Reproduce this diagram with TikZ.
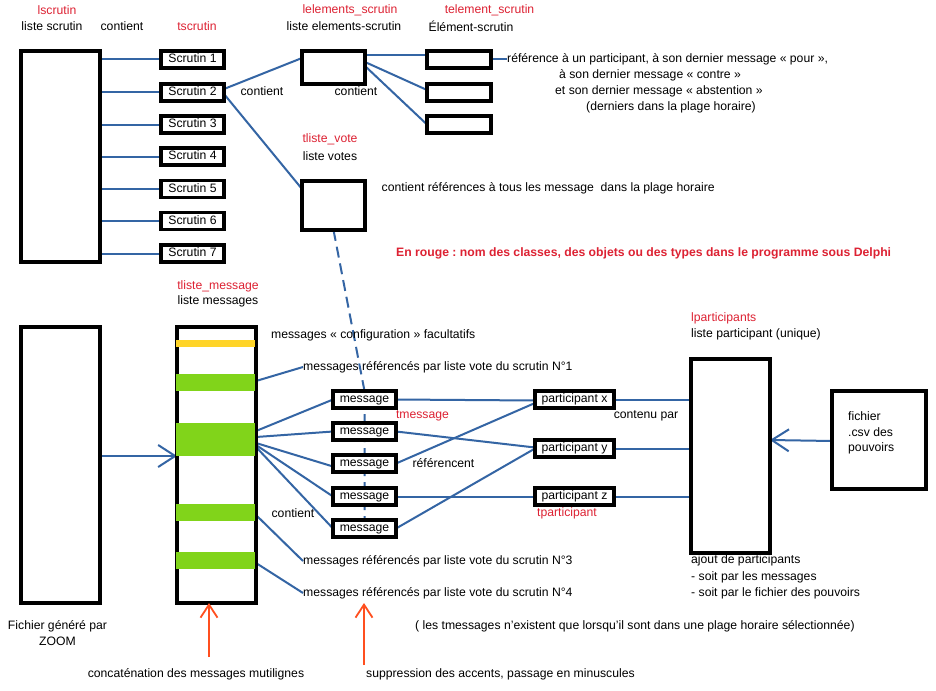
\documentclass[tikz,border=0pt]{standalone}
\usepackage{fontspec}
\setmainfont{Liberation Sans}
\usetikzlibrary{arrows.meta,calc}
\definecolor{lblue}{HTML}{3465A4}
\definecolor{cred}{RGB}{221,34,51}
\definecolor{lgreen}{HTML}{81D41A}
\definecolor{lyellow}{HTML}{FFD428}
\definecolor{lorange}{HTML}{FF4F1F}
\pgfdeclarelayer{back}
\pgfdeclarelayer{bg}
\pgfsetlayers{back,bg,main}
\frenchspacing
\begin{document}
\begin{tikzpicture}[x=1pt,y=-1pt,
  every node/.style={font=\fontsize{12.2}{14}\selectfont},
  box/.style={draw=black,line width=3.1pt,fill=white,inner sep=0pt,outer sep=0pt,text height=8.8pt,text depth=2.2pt},
  sbox/.style={box,minimum width=63pt,minimum height=17pt},
  lab/.style={inner sep=0pt,text=black},
  rlab/.style={inner sep=0pt,text=cred},
  conn/.style={draw=lblue,line width=2pt},
  barb/.style={-{Straight Barb[length=17pt,width=22pt]}},
  obarb/.style={draw=lorange,line width=1.8pt,-{Straight Barb[length=13pt,width=17pt]}},
  dashline/.style={conn,dash pattern=on 11pt off 6pt},
]
\begin{pgfonlayer}{back}
\fill[white] (0,0) rectangle (936,690);
\end{pgfonlayer}
\useasboundingbox (0,0) rectangle (936,690);

% ---------- top part ----------
\node[box,minimum width=79pt,minimum height=211pt] (ls) at (60.5,156.5) {};
\foreach \i/\y in {1/59.5,2/92.5,3/124.5,4/156.5,5/189,6/221,7/253.5}
  \node[sbox] (s\i) at (192.5,\y) {Scrutin \i};
\node[box,minimum width=63pt,minimum height=33pt] (le) at (333.5,67.5) {};
\foreach \i/\y in {1/59.5,2/92.5,3/124.5}
  \node[box,minimum width=64pt,minimum height=17pt] (e\i) at (459,\y) {};
\node[box,minimum width=63pt,minimum height=49pt] (tv) at (333.5,205.5) {};

\node[rlab] (tlscr) at (57,10) {lscrutin};
\node[lab] (tlistes) at (52,26) {liste scrutin};
\node[lab] (tcont1) at (122,26) {contient};
\node[rlab] (ttscr) at (197,26) {tscrutin};
\node[rlab] (tles) at (350,10) {lelements\_scrutin};
\node[lab] (tlesb) at (344,26) {liste elements-scrutin};
\node[rlab] (tel) at (489.5,10) {telement\_scrutin};
\node[lab] (telb) at (471,26) {Élément-scrutin};
\node[lab] (tcont2) at (262,91) {contient};
\node[lab] (tcont3) at (356,91) {contient};
\node[rlab] (ttv) at (330,139) {tliste\_vote};
\node[lab] (ttvb) at (330,156) {liste votes};
\node[lab,anchor=west] (r1) at (507,59.5) {référence à un participant, à son dernier message « pour »,};
\node[lab,anchor=west] (r2) at (559,75) {à son dernier message « contre »};
\node[lab,anchor=west] (r3) at (555,91.5) {et son dernier message « abstention »};
\node[lab,anchor=west] (r4) at (586,107.5) {(derniers dans la plage horaire)};
\node[lab,anchor=west] (tref) at (381.5,188) {contient références à tous les message~ dans la plage horaire};
\node[rlab,anchor=west,font=\fontsize{12.2}{14}\selectfont\bfseries] (trouge) at (396,253) {En rouge : nom des classes, des objets ou des types dans le programme sous Delphi};

% ---------- bottom part ----------
\node[box,minimum width=79pt,minimum height=276pt] (fz) at (60.5,465) {};
\node[box,minimum width=79pt,minimum height=276pt] (tm) at (216.5,465) {};
\fill[lyellow] (175.5,340) rectangle (254.5,347);
\foreach \a/\b in {374/391,423/456,504/521,552/569}
  \fill[lgreen] (175.5,\a) rectangle (254.5,\b);

\foreach \i/\y in {1/399.5,2/431.5,3/463.5,4/496.5,5/528.5}
  \node[sbox] (m\i) at (364.5,\y) {message};
\node[box,minimum width=79pt,minimum height=17pt] (px) at (574.5,399.5) {participant x};
\node[box,minimum width=79pt,minimum height=17pt] (py) at (574.5,448.5) {participant y};
\node[box,minimum width=79pt,minimum height=17pt] (pz) at (574.5,496.5) {participant z};
\node[box,minimum width=79pt,minimum height=194pt] (lp) at (730.5,456) {};
\node[box,minimum width=94pt,minimum height=98pt] (csv) at (879,440) {};

\node[lab] (tfz1) at (57.5,626) {Fichier généré par};
\node[lab] (tfz2) at (57.5,641) {ZOOM};
\node[rlab] (ttm) at (218,286) {tliste\_message};
\node[lab] (ttmb) at (218,301) {liste messages};
\node[lab,anchor=west] (tconf) at (271,335) {messages « configuration » facultatifs};
\node[lab,anchor=west] (n1) at (303,367) {messages référencés par liste vote du scrutin N°1};
\node[lab,anchor=west] (n3) at (303,561) {messages référencés par liste vote du scrutin N°3};
\node[lab,anchor=west] (n4) at (303,593) {messages référencés par liste vote du scrutin N°4};
\node[lab] (tcont4) at (293,513) {contient};
\node[rlab] (ttmsg) at (422.5,416) {tmessage};
\node[lab] (tref2) at (443.5,463) {référencent};
\node[rlab] (ttpart) at (567,513) {tparticipant};
\node[lab] (tcontenu) at (646,416) {contenu par};
\node[rlab,anchor=west] (tlp) at (691,318) {lparticipants};
\node[lab,anchor=west] (tlpb) at (691,334) {liste participant (unique)};
\node[lab,anchor=west] (tcsv1) at (848,416) {fichier};
\node[lab,anchor=west] (tcsv2) at (848,432) {.csv des};
\node[lab,anchor=west] (tcsv3) at (848,448) {pouvoirs};
\node[lab,anchor=west] (taj1) at (691,560) {ajout de participants};
\node[lab,anchor=west] (taj2) at (691,577) {- soit par les messages};
\node[lab,anchor=west] (taj3) at (691,593) {- soit par le fichier des pouvoirs};
\node[lab,anchor=west] (texist) at (415,626) {( les tmessages n’existent que lorsqu’il sont dans une plage horaire sélectionnée)};
\node[lab] (tconc) at (196,674) {concaténation des messages mutilignes};
\node[lab,anchor=west] (tsupp) at (366,674) {suppression des accents, passage en minuscules};

\coordinate (o1a) at (209,657);
\coordinate (o1b) at (209,603);
\coordinate (o2a) at (364,665);
\coordinate (o2b) at (364,603);

% ---------- connectors (behind boxes) ----------
\begin{pgfonlayer}{bg}
\foreach \i in {1,...,7}
  \draw[conn] (ls.east |- s\i.west) -- (s\i.west);
\draw[conn] ([yshift=3.5pt]s2.east) -- ([yshift=9.5pt]le.west);
\draw[conn] ([yshift=-1.5pt]s2.east) -- ([yshift=16.5pt]tv.west);
\draw[conn] ([yshift=12pt]le.east) -- ([yshift=4pt]e1.west);
\draw[conn] ([yshift=5.5pt]le.east) -- ([yshift=2.5pt]e2.west);
\draw[conn] ([yshift=1.5pt]le.east) -- (e3.west);
\draw[conn] (e1.east) -- (r1.west);
\draw[dashline] (tv.south) -- (m1.north) -- (m5.north);

\draw[conn] ([yshift=84pt]tm.east) -- (n1.west);
\draw[conn] ([yshift=34pt]tm.east) -- (m1.west);
\draw[conn] ([yshift=28pt]tm.east) -- (m2.west);
\draw[conn] ([yshift=22pt]tm.east) -- ([yshift=-3pt]m3.west);
\draw[conn] ([yshift=20pt]tm.east) -- (m4.west);
\draw[conn] ([yshift=18pt]tm.east) -- (m5.west);
\draw[conn] ([yshift=-50pt]tm.east) -- (n3.west);
\draw[conn] ([yshift=-98pt]tm.east) -- (n4.west);

\draw[conn] (m1.east) -- ([yshift=-1pt]px.west);
\draw[conn] (m2.east) -- ([yshift=1pt]py.west);
\draw[conn] (m3.east) -- ([yshift=-3.5pt]px.west);
\draw[conn] (m4.east) -- (pz.west);
\draw[conn] (m5.east) -- (py.west);
\draw[conn] (px.east) -- (lp.west |- px.east);
\draw[conn] (py.east) -- (lp.west |- py.east);
\draw[conn] (pz.east) -- (lp.west |- pz.east);

\draw[conn,barb] ([yshift=9pt]fz.east) -- ([yshift=9pt]tm.west);
\draw[conn,barb] ([yshift=-1pt]csv.west) -- ([yshift=16pt]lp.east);
\end{pgfonlayer}
\draw[obarb] (o1a) -- (o1b);
\draw[obarb] (o2a) -- (o2b);
\end{tikzpicture}
\end{document}
